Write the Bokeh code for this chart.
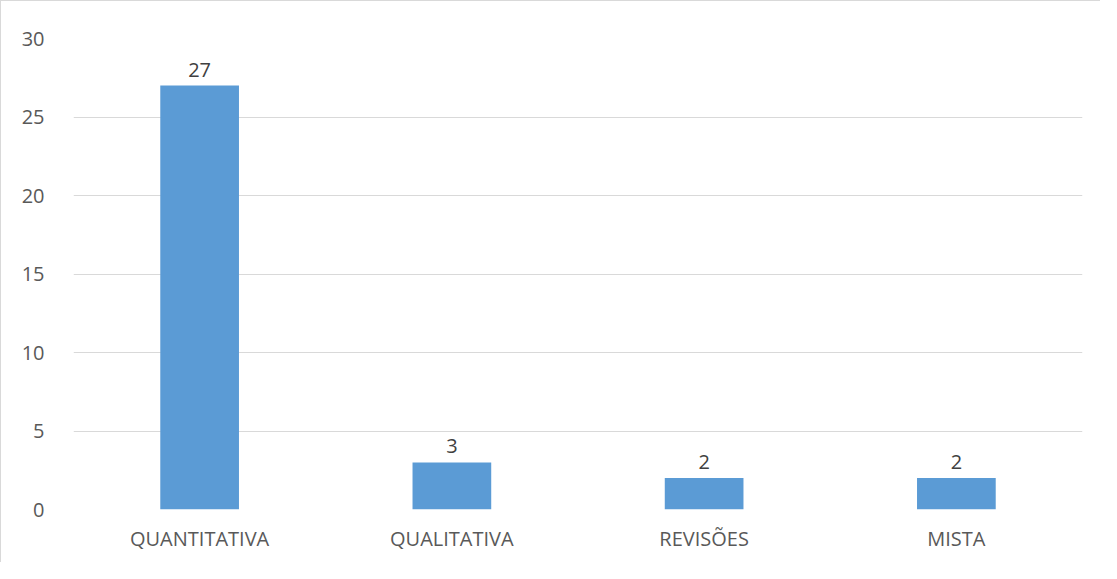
from bokeh.plotting import figure
from bokeh.models import ColumnDataSource, LabelSet, Range1d, FixedTicker
from bokeh.core.properties import value
from bokeh.embed import file_html
from bokeh.resources import INLINE

categories = ["QUANTITATIVA", "QUALITATIVA", "REVISÕES", "MISTA"]
values = [27, 3, 2, 2]
y_ticks = [0, 5, 10, 15, 20, 25, 30]

src = ColumnDataSource(dict(cat=categories, val=values, lab=[str(v) for v in values]))

p = figure(x_range=categories, y_range=Range1d(0, 30), width=1100, height=562,
           output_backend="svg", toolbar_location=None,
           min_border_left=72, min_border_right=19, min_border_top=37, min_border_bottom=54)
p.styles = {"border-left": "1px solid #d9d9d9", "border-top": "1px solid #d9d9d9"}
p.outline_line_color = None
p.vbar(x="cat", top="val", width=0.312, source=src, fill_color="#5b9bd5", line_color=None)

labels = LabelSet(x="cat", y="val", text="lab", source=src, text_align="center",
                  text_baseline="bottom", y_offset=9, text_font=value("Open Sans"),
                  text_font_size="20px", text_color="#404040")
p.add_layout(labels)

p.xgrid.grid_line_color = None
p.ygrid.grid_line_color = "#d9d9d9"
p.ygrid.grid_line_width = 1
p.yaxis.ticker = FixedTicker(ticks=y_ticks)
for ax in (p.xaxis, p.yaxis):
    ax.axis_line_color = None
    ax.major_tick_line_color = None
    ax.minor_tick_line_color = None
    ax.major_label_text_font = "Open Sans"
    ax.major_label_text_font_size = "20px"
    ax.major_label_text_color = "#595959"
p.yaxis.major_label_standoff = 23
p.xaxis.major_label_standoff = 9

open("out.html", "w").write(file_html(p, INLINE))
